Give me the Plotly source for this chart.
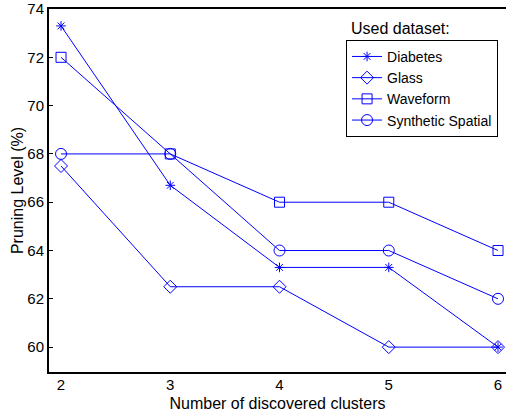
import plotly.graph_objects as go

clusters = [2, 3, 4, 5, 6]
diabetes = [73.3, 66.7, 63.3, 63.3, 60.0]
glass = [67.5, 62.5, 62.5, 60.0, 60.0]
waveform = [72.0, 68.0, 66.0, 66.0, 64.0]
synthetic = [68.0, 68.0, 64.0, 64.0, 62.0]

x_ticks = [2, 3, 4, 5, 6]
y_ticks = [60, 62, 64, 66, 68, 70, 72, 74]

BLUE = "#0000ff"
FONT = "Liberation Sans, Arial, sans-serif"

series = [
    ("Diabetes", diabetes, "asterisk-open", 8),
    ("Glass", glass, "diamond-open", 10),
    ("Waveform", waveform, "square-open", 10),
    ("Synthetic Spatial", synthetic, "circle-open", 11),
]

fig = go.Figure()
for name, vals, sym, size in series:
    fig.add_trace(go.Scatter(
        x=clusters, y=vals, name=name, mode="lines+markers",
        line=dict(color=BLUE, width=1),
        marker=dict(symbol=sym, size=size, color=BLUE, line=dict(color=BLUE, width=1)),
    ))

fig.update_layout(
    width=506, height=416,
    margin=dict(l=49, r=0, t=9, b=44, autoexpand=False),
    paper_bgcolor="white", plot_bgcolor="white",
    font=dict(family=FONT, size=15, color="black"),
    showlegend=True,
    legend=dict(
        x=0.65, y=0.915, xanchor="left", yanchor="top",
        bgcolor="white", bordercolor="black", borderwidth=1,
        font=dict(family=FONT, size=14, color="black"),
        tracegroupgap=0, itemwidth=30,
    ),
    annotations=[dict(
        text="Used dataset:", xref="paper", yref="paper",
        x=0.657, y=0.946, xanchor="left", yanchor="middle",
        showarrow=False, font=dict(family=FONT, size=16, color="black"),
    )],
)

fig.update_xaxes(
    range=[1.89, 6.073], tickvals=x_ticks, ticktext=[str(v) for v in x_ticks],
    ticks="", automargin=False, ticklabelstandoff=-2,
    showline=True, linecolor="black", linewidth=2, mirror=True,
    showgrid=False, zeroline=False,
    title=dict(text="Number of discovered clusters", standoff=6,
               font=dict(family=FONT, size=16)),
    tickfont=dict(family=FONT, size=15),
)
fig.update_yaxes(
    range=[58.97, 74.0], tickvals=y_ticks, ticktext=[str(v) for v in y_ticks],
    ticks="inside", ticklen=4, tickcolor="black", automargin=False,
    showline=True, linecolor="black", linewidth=2, mirror=False,
    showgrid=False, zeroline=False,
    title=dict(text="Pruning Level (%)", standoff=0,
               font=dict(family=FONT, size=16)),
    tickfont=dict(family=FONT, size=15),
)

fig.write_html(
    "out.html",
    config={"displayModeBar": False},
    post_script="document.body.style.margin='0';document.body.style.overflow='hidden';",
)
